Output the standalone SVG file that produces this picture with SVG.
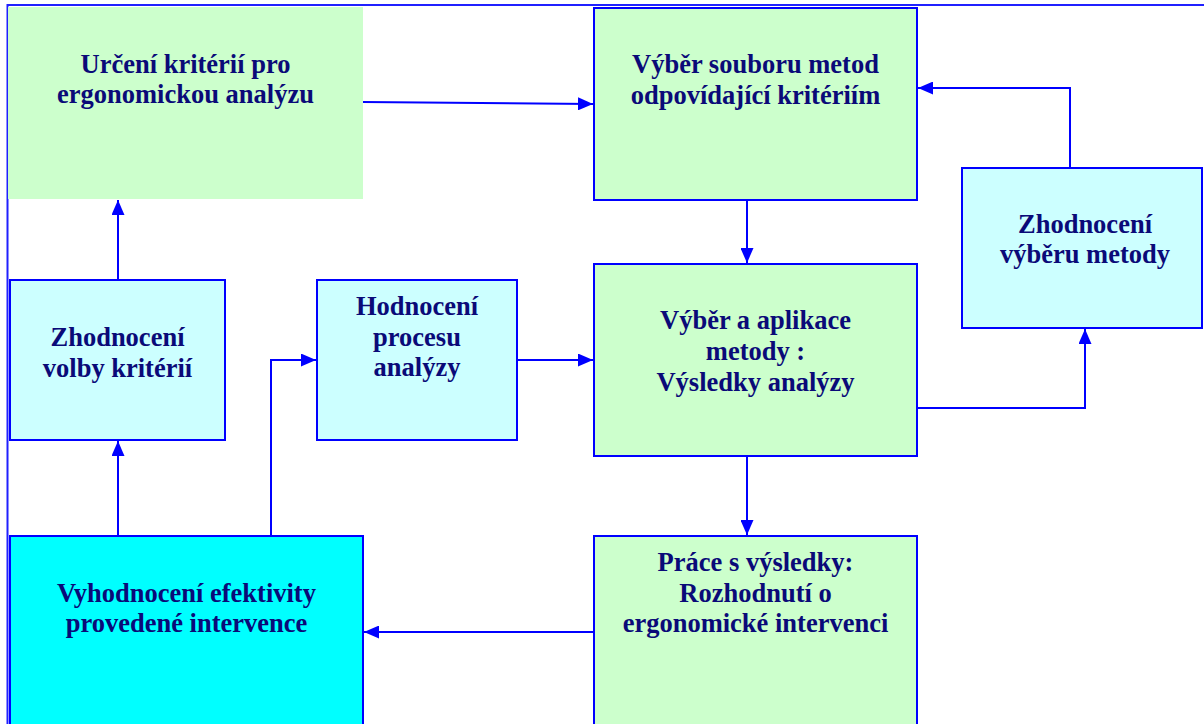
<svg xmlns="http://www.w3.org/2000/svg" width="1204" height="724" viewBox="0 0 1204 724">
<style>
  .box { stroke: #0000ff; stroke-width: 2; }
  .green { fill: #ccffcc; }
  .lcyan { fill: #ccffff; }
  .cyan { fill: #00ffff; }
  .lbl { font-family: "Liberation Serif", "Times New Roman", serif; font-weight: bold; font-size: 26.5px; fill: #0a0a78; text-anchor: middle; }
  .conn { fill: none; stroke: #0000ff; stroke-width: 2; }
  .frame { fill: none; stroke: #2020ff; stroke-width: 2; }
</style>
<defs>
  <marker id="arr" viewBox="0 0 15 13" refX="15" refY="6.5" markerWidth="15" markerHeight="13" markerUnits="userSpaceOnUse" orient="auto">
    <path d="M0,0 L15,6.5 L0,13 z" fill="#0000ff"/>
  </marker>
</defs>
<rect width="1204" height="724" fill="#ffffff"/>
<path class="frame" d="M7.5,724 V5 H1204"/>
<g id="n1">
  <rect x="8" y="7" width="355" height="192" class="green"/>
  <text class="lbl"><tspan x="185.5" y="73">Určení kritérií pro</tspan><tspan x="185.5" y="103">ergonomickou analýzu</tspan></text>
</g>
<g id="n2">
  <rect x="594" y="8" width="323" height="192" class="box green"/>
  <text class="lbl"><tspan x="755.5" y="73">Výběr souboru metod</tspan><tspan x="755.5" y="104">odpovídající kritériím</tspan></text>
</g>
<g id="n3">
  <rect x="962" y="168" width="240" height="160" class="box lcyan"/>
  <text class="lbl"><tspan x="1085" y="233">Zhodnocení</tspan><tspan x="1085" y="263">výběru metody</tspan></text>
</g>
<g id="n4">
  <rect x="594" y="264" width="323" height="192" class="box green"/>
  <text class="lbl"><tspan x="755.5" y="329">Výběr a aplikace</tspan><tspan x="755.5" y="360">metody :</tspan><tspan x="755.5" y="391">Výsledky analýzy</tspan></text>
</g>
<g id="n5">
  <rect x="10" y="280" width="215" height="160" class="box lcyan"/>
  <text class="lbl"><tspan x="117.5" y="346">Zhodnocení</tspan><tspan x="117.5" y="377">volby kritérií</tspan></text>
</g>
<g id="n6">
  <rect x="317" y="280" width="200" height="160" class="box lcyan"/>
  <text class="lbl"><tspan x="417" y="315">Hodnocení</tspan><tspan x="417" y="346">procesu</tspan><tspan x="417" y="376">analýzy</tspan></text>
</g>
<g id="n7">
  <rect x="10" y="536" width="353" height="200" class="box cyan"/>
  <text class="lbl"><tspan x="186.5" y="602">Vyhodnocení efektivity</tspan><tspan x="186.5" y="632">provedené intervence</tspan></text>
</g>
<g id="n8">
  <rect x="594" y="536" width="323" height="200" class="box green"/>
  <text class="lbl"><tspan x="755.5" y="571">Práce s výsledky:</tspan><tspan x="755.5" y="602">Rozhodnutí o</tspan><tspan x="755.5" y="632">ergonomické intervenci</tspan></text>
</g>
<g id="connectors">
  <path class="conn" d="M363,102 L593,104" marker-end="url(#arr)"/>
  <path class="conn" d="M1070,167 V88 H918" marker-end="url(#arr)"/>
  <path class="conn" d="M747,200 V263" marker-end="url(#arr)"/>
  <path class="conn" d="M517,360 H593" marker-end="url(#arr)"/>
  <path class="conn" d="M917,408 H1085 V329" marker-end="url(#arr)"/>
  <path class="conn" d="M747,456 V535" marker-end="url(#arr)"/>
  <path class="conn" d="M594,632 H364" marker-end="url(#arr)"/>
  <path class="conn" d="M118,536 V441" marker-end="url(#arr)"/>
  <path class="conn" d="M118,280 V200" marker-end="url(#arr)"/>
  <path class="conn" d="M271,536 V360 H316" marker-end="url(#arr)"/>
</g>
</svg>
